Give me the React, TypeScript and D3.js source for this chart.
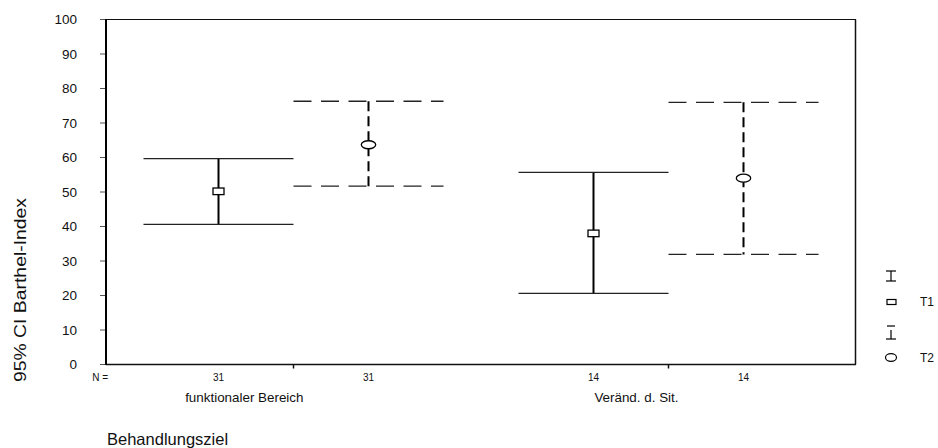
import React, { useEffect, useRef } from "react";
import * as d3 from "d3";

// Behandlungsziel groups and time points
const groups = ["funktionaler Bereich", "Veränd. d. Sit."];
const times = ["T1", "T2"];

// 95% CI of Barthel-Index
const meanT1 = [50.2, 38.0];
const lowT1 = [40.6, 20.6];
const highT1 = [59.7, 55.7];
const meanT2 = [63.7, 54.0];
const lowT2 = [51.7, 31.9];
const highT2 = [76.3, 76.0];
const nT1 = [31, 14];
const nT2 = [31, 14];

const yTicks = [0, 10, 20, 30, 40, 50, 60, 70, 80, 90, 100];

const FONT = "'Liberation Sans', Arial, sans-serif";

export default function App() {
  const ref = useRef<SVGSVGElement>(null);

  useEffect(() => {
    const svg = d3.select(ref.current);
    svg.selectAll("*").remove();

    const left = 106, right = 856, top = 19.5, bottom = 364.5;

    const x0 = d3.scaleBand().domain(groups).range([left, right]).padding(0);
    const x1 = d3.scalePoint().domain(times).range([0, x0.bandwidth()]).padding(0.75);
    const y = d3.scaleLinear().domain([0, 100]).range([bottom, top]);
    const half = x1.step() / 2;

    const rows: any[] = [];
    groups.forEach((g, i) => {
      rows.push({ g, t: "T1", mean: meanT1[i], lo: lowT1[i], hi: highT1[i], n: nT1[i] });
      rows.push({ g, t: "T2", mean: meanT2[i], lo: lowT2[i], hi: highT2[i], n: nT2[i] });
    });
    const cx = (d: any) => (x0(d.g) as number) + (x1(d.t) as number);

    // frame
    svg.append("line").attr("x1", left).attr("x2", right).attr("y1", top).attr("y2", top)
      .attr("stroke", "#111").attr("stroke-width", 1);
    svg.append("line").attr("x1", right - 0.5).attr("x2", right - 0.5).attr("y1", top).attr("y2", bottom)
      .attr("stroke", "#111").attr("stroke-width", 1.5);
    svg.append("line").attr("x1", left).attr("x2", right).attr("y1", bottom).attr("y2", bottom)
      .attr("stroke", "#111").attr("stroke-width", 1.5);

    // y axis
    const yAxis = svg.append("g");
    yAxis.selectAll("line.tick").data(yTicks).enter().append("line")
      .attr("x1", left - 6).attr("x2", left).attr("y1", d => y(d)).attr("y2", d => y(d))
      .attr("stroke", "#555").attr("stroke-width", 1);
    yAxis.selectAll("text").data(yTicks).enter().append("text")
      .attr("x", 77).attr("y", d => y(d)).attr("dy", "0.35em")
      .attr("text-anchor", "end").attr("font-size", 13.5).attr("font-family", FONT)
      .attr("fill", "#111").text(d => d);
    svg.append("line").attr("x1", left).attr("x2", left).attr("y1", top - 0.5).attr("y2", bottom + 0.5)
      .attr("stroke", "#000").attr("stroke-width", 2);

    svg.append("text")
      .attr("transform", `translate(20,290) rotate(-90)`)
      .attr("text-anchor", "middle").attr("dy", "0.35em")
      .attr("font-size", 16).attr("font-family", FONT).attr("fill", "#111")
      .attr("textLength", 184).attr("lengthAdjust", "spacingAndGlyphs")
      .text("95% CI Barthel-Index");

    // x axis ticks at group centres
    svg.selectAll("line.xtick").data(groups).enter().append("line")
      .attr("x1", d => (x0(d) as number) + x0.bandwidth() / 2)
      .attr("x2", d => (x0(d) as number) + x0.bandwidth() / 2)
      .attr("y1", bottom).attr("y2", bottom + 4)
      .attr("stroke", "#111").attr("stroke-width", 1.5);

    svg.append("text").attr("x", 108).attr("y", 377).attr("dy", "0.35em")
      .attr("text-anchor", "end").attr("font-size", 10).attr("font-family", FONT)
      .attr("fill", "#111").text("N =");
    svg.selectAll("text.n").data(rows).enter().append("text")
      .attr("x", cx).attr("y", 377).attr("dy", "0.35em")
      .attr("text-anchor", "middle").attr("font-size", 10).attr("font-family", FONT)
      .attr("fill", "#111").text(d => d.n);

    svg.selectAll("text.cat").data(groups).enter().append("text")
      .attr("x", d => (x0(d) as number) + x0.bandwidth() / 2 + 10).attr("y", 397.5).attr("dy", "0.35em")
      .attr("text-anchor", "end").attr("font-size", 13.4).attr("font-family", FONT)
      .attr("fill", "#111").text(d => d);

    svg.append("text").attr("x", 107).attr("y", 445)
      .attr("font-size", 16.5).attr("font-family", FONT).attr("fill", "#111")
      .text("Behandlungsziel");

    // error bars
    const bars = svg.selectAll("g.bar").data(rows).enter().append("g");
    bars.append("line")
      .attr("x1", cx).attr("x2", cx).attr("y1", d => y(d.hi)).attr("y2", d => y(d.lo))
      .attr("stroke", "#000").attr("stroke-width", 2)
      .attr("stroke-dasharray", d => d.t === "T2" ? "10 5" : null);
    ["hi", "lo"].forEach(k => {
      bars.append("line")
        .attr("x1", d => cx(d) - half).attr("x2", d => cx(d) + half)
        .attr("y1", (d: any) => y(d[k])).attr("y2", (d: any) => y(d[k]))
        .attr("stroke", "#222").attr("stroke-width", 1.3)
        .attr("stroke-dasharray", d => d.t === "T2" ? "18 9.5" : null);
    });
    bars.filter(d => d.t === "T1").append("rect")
      .attr("x", d => cx(d) - 5.5).attr("y", d => y(d.mean) - 3.3)
      .attr("width", 11).attr("height", 6.6)
      .attr("fill", "#fff").attr("stroke", "#000").attr("stroke-width", 1.3);
    bars.filter(d => d.t === "T2").append("ellipse")
      .attr("cx", cx).attr("cy", d => y(d.mean)).attr("rx", 7.2).attr("ry", 4)
      .attr("fill", "#fff").attr("stroke", "#000").attr("stroke-width", 1.3);

    // legend
    const lg = svg.append("g").attr("stroke", "#000").attr("stroke-width", 1.2).attr("fill", "none");
    lg.append("line").attr("x1", 886).attr("x2", 896).attr("y1", 271).attr("y2", 271);
    lg.append("line").attr("x1", 891).attr("x2", 891).attr("y1", 271).attr("y2", 281);
    lg.append("line").attr("x1", 886).attr("x2", 896).attr("y1", 281).attr("y2", 281);
    lg.append("rect").attr("x", 887).attr("y", 299.5).attr("width", 9).attr("height", 5);
    lg.append("line").attr("x1", 887).attr("x2", 895).attr("y1", 326).attr("y2", 326);
    lg.append("line").attr("x1", 891).attr("x2", 891).attr("y1", 330).attr("y2", 339);
    lg.append("line").attr("x1", 886).attr("x2", 896).attr("y1", 339).attr("y2", 339);
    lg.append("ellipse").attr("cx", 891).attr("cy", 357.5).attr("rx", 5.5).attr("ry", 3.8);
    svg.selectAll("text.leg").data(times).enter().append("text")
      .attr("x", 920).attr("y", (d, i) => i === 0 ? 302 : 357.5).attr("dy", "0.35em")
      .attr("font-size", 12).attr("font-family", FONT).attr("fill", "#111").text(d => d);
  }, []);

  return (
    <svg ref={ref} width={938} height={448}
      style={{ position: "absolute", left: 0, top: 0, background: "#fff" }} />
  );
}
